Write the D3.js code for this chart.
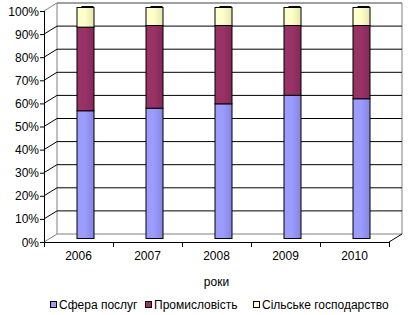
<!DOCTYPE html>
<html>
<head>
<meta charset="utf-8">
<script src="https://cdn.jsdelivr.net/npm/d3@7"></script>
<style>
  body { margin: 0; background: #fff; }
  text { font-family: Arial, "Liberation Sans", sans-serif; font-size: 12px; fill: #000; }
</style>
</head>
<body>
<div id="chart"></div>
<script>
var w = 409;
var h = 315;

var years = ["2006", "2007", "2008", "2009", "2010"];
var services = [55.3, 56.4, 58.3, 62.0, 60.5];
var industry = [36.2, 35.8, 33.9, 30.2, 31.7];
var agriculture = [8.5, 7.8, 7.8, 7.8, 7.8];
var seriesNames = ["Сфера послуг", "Промисловість", "Сільське господарство"];
var seriesColors = [["#9c9cff", "#8585e0"], ["#993366", "#85295a"], ["#ffffcc", "#e6e6b0"]];
var yTicks = [0, 10, 20, 30, 40, 50, 60, 70, 80, 90, 100];

// depth offset of the 3d box
var dx = 13, dy = -8;

var svg = d3.select("#chart").append("svg")
    .attr("width", w)
    .attr("height", h);

var defs = svg.append("defs");
seriesColors.forEach(function(c, i) {
    var g = defs.append("linearGradient").attr("id", "grad" + i)
        .attr("x1", "0%").attr("x2", "100%").attr("y1", "0%").attr("y2", "0%");
    g.append("stop").attr("offset", "0%").attr("stop-color", c[0]);
    g.append("stop").attr("offset", "45%").attr("stop-color", c[0]);
    g.append("stop").attr("offset", "100%").attr("stop-color", c[1]);
});

var x = d3.scaleBand().domain(years).range([44, 389]);
var y = d3.scaleLinear().domain([0, 100]).range([242, 11]);

// back wall frame
var x0 = x.range()[0], x1 = x.range()[1];
svg.append("path")
    .attr("d", "M" + (x0 + dx) + "," + (y(0) + dy) + "V" + (y(100) + dy) + "H" + (x1 + dx) + "V" + (y(0) + dy))
    .attr("fill", "none").attr("stroke", "#808080");
svg.append("line")
    .attr("x1", x0 + dx).attr("x2", x1 + dx)
    .attr("y1", y(0) + dy).attr("y2", y(0) + dy)
    .attr("stroke", "#808080");

// gridlines (left wall diagonal + back wall horizontal)
svg.selectAll(".grid")
    .data(yTicks.filter(function(d) { return d > 0; }))
    .enter().append("path")
    .attr("class", "grid")
    .attr("d", function(d) {
        return "M" + x0 + "," + y(d) + "L" + (x0 + dx) + "," + (y(d) + dy) + "H" + (x1 + dx);
    })
    .attr("fill", "none")
    .attr("stroke", function(d) { return d === 100 ? "#808080" : "#000"; });

// floor diagonals
svg.append("line")
    .attr("x1", x0).attr("y1", y(0)).attr("x2", x0 + dx).attr("y2", y(0) + dy)
    .attr("stroke", "#808080");
svg.append("line")
    .attr("x1", x1).attr("y1", y(0)).attr("x2", x1 + dx).attr("y2", y(0) + dy)
    .attr("stroke", "#000");

// stacked bars
var stackData = years.map(function(yr, i) {
    return { year: yr, s0: services[i], s1: industry[i], s2: agriculture[i] };
});
var stack = d3.stack().keys(["s0", "s1", "s2"]);
var layers = stack(stackData);
var barW = 17;

layers.forEach(function(layer, k) {
    svg.selectAll(".bar" + k)
        .data(layer)
        .enter().append("rect")
        .attr("x", function(d) { return x(d.data.year) + x.bandwidth() / 2 + dx / 2 - barW / 2 + 0.5; })
        .attr("y", function(d) { return y(d[1]) + dy / 2 + 0.5; })
        .attr("width", barW)
        .attr("height", function(d) { return y(d[0]) - y(d[1]); })
        .attr("fill", "url(#grad" + k + ")")
        .attr("stroke", "#000")
        .attr("stroke-width", 1);
});

// top caps
svg.selectAll(".cap")
    .data(stackData)
    .enter().append("rect")
    .attr("x", function(d) { return x(d.year) + x.bandwidth() / 2 + dx / 2 - barW / 2 + 5; })
    .attr("y", function(d) { return y(d.s0 + d.s1 + d.s2) + dy / 2 - 1; })
    .attr("width", barW - 5)
    .attr("height", 2)
    .attr("fill", "#000");

// y axis
svg.append("line")
    .attr("x1", x0 + 0.5).attr("x2", x0 + 0.5)
    .attr("y1", y(100)).attr("y2", y(0))
    .attr("stroke", "#000");
svg.selectAll(".ytick")
    .data(yTicks).enter().append("line")
    .attr("x1", x0 - 4).attr("x2", x0)
    .attr("y1", function(d) { return y(d) + 0.5; })
    .attr("y2", function(d) { return y(d) + 0.5; })
    .attr("stroke", "#000");
svg.selectAll(".ylab")
    .data(yTicks).enter().append("text")
    .attr("x", x0 - 5)
    .attr("y", function(d) { return y(d) + 4.5; })
    .attr("text-anchor", "end")
    .text(function(d) { return d + "%"; });

// x axis
svg.append("line")
    .attr("x1", x0).attr("x2", x1)
    .attr("y1", y(0) + 0.5).attr("y2", y(0) + 0.5)
    .attr("stroke", "#000");
svg.selectAll(".xtick")
    .data(d3.range(years.length + 1)).enter().append("line")
    .attr("x1", function(i) { return x0 + i * x.step() + 0.5; })
    .attr("x2", function(i) { return x0 + i * x.step() + 0.5; })
    .attr("y1", y(0)).attr("y2", y(0) + 5)
    .attr("stroke", "#000");
svg.selectAll(".xlab")
    .data(years).enter().append("text")
    .attr("x", function(d) { return x(d) + x.bandwidth() / 2; })
    .attr("y", 260)
    .attr("text-anchor", "middle")
    .text(function(d) { return d; });

svg.append("text")
    .attr("x", (x0 + x1) / 2)
    .attr("y", 286)
    .attr("text-anchor", "middle")
    .text("роки");

// legend
var legendX = [50, 145, 253];
var legend = svg.selectAll(".legend")
    .data(seriesNames).enter().append("g")
    .attr("transform", function(d, i) { return "translate(" + legendX[i] + ",301)"; });
legend.append("rect")
    .attr("x", 0.5).attr("y", 0.5)
    .attr("width", 6).attr("height", 6)
    .attr("fill", function(d, i) { return seriesColors[i][0]; })
    .attr("stroke", "#000");
legend.append("text")
    .attr("x", 9)
    .attr("y", 7.5)
    .text(function(d) { return d; });
</script>
</body>
</html>
